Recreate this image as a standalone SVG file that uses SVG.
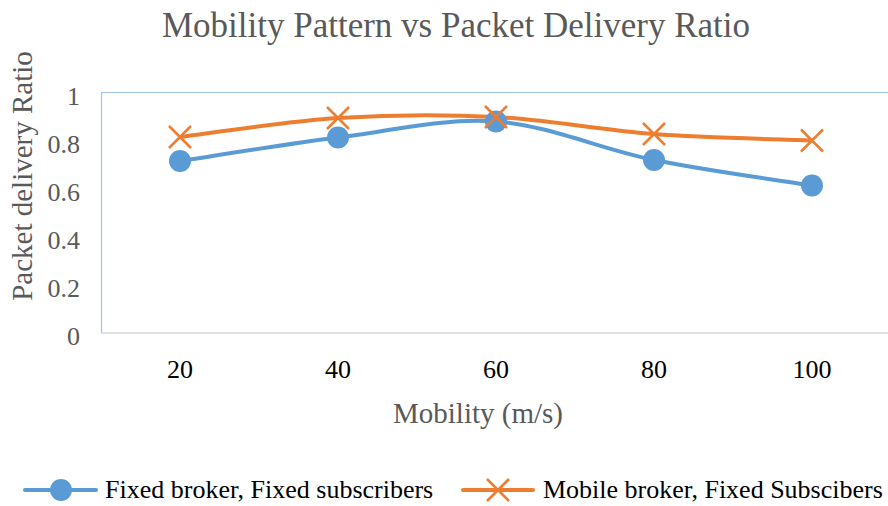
<svg xmlns="http://www.w3.org/2000/svg" width="888" height="506" viewBox="0 0 888 506">
<style>
text{font-family:"Liberation Serif","Times New Roman",serif}
.title{font-size:35px;fill:#595959}
.ytick{font-size:26px;fill:#595959;text-anchor:end}
.xtick{font-size:26px;fill:#000;text-anchor:middle}
.axt{font-size:29px;fill:#595959;text-anchor:middle}
.leg{font-size:26px;fill:#000}
.blue{fill:none;stroke:#5b9bd5;stroke-width:4;stroke-linecap:round}
.orange{fill:none;stroke:#ed7d31;stroke-width:4;stroke-linecap:round}
.xm{stroke:#ed7d31;stroke-width:2.5;fill:none}
</style>
<defs>
<circle id="dot" r="11" fill="#5b9bd5"/>
<path id="xmark" d="M-11,-11L11,11M-11,11L11,-11" class="xm"/>
</defs>
<rect width="888" height="506" fill="#fff"/>
<text class="title" x="456" y="37" text-anchor="middle">Mobility Pattern vs Packet Delivery Ratio</text>
<g id="plot-area">
<path d="M888,92.5H101.5V333" fill="none" stroke="#9dc3e6" stroke-width="1.2"/>
<line x1="101" y1="333" x2="888" y2="333" stroke="#d9d9d9" stroke-width="1.5"/>
</g>
<g id="y-axis">
<text class="ytick" x="80" y="104.5">1</text>
<text class="ytick" x="80" y="152.6">0.8</text>
<text class="ytick" x="80" y="200.7">0.6</text>
<text class="ytick" x="80" y="248.8">0.4</text>
<text class="ytick" x="80" y="296.9">0.2</text>
<text class="ytick" x="80" y="345">0</text>
<text class="axt" transform="translate(32,176) rotate(-90)">Packet delivery Ratio</text>
</g>
<g id="x-axis">
<text class="xtick" x="180" y="378">20</text>
<text class="xtick" x="338" y="378">40</text>
<text class="xtick" x="496" y="378">60</text>
<text class="xtick" x="654" y="378">80</text>
<text class="xtick" x="812" y="378">100</text>
<text class="axt" x="478" y="423">Mobility (m/s)</text>
</g>
<g id="connectors">
<path class="blue" d="M180,161C206.3,157.1 285.3,144.1 338,137.5C390.7,130.9 443.3,117.75 496,121.5C548.7,125.25 601.3,149.3 654,160C706.7,170.67 785.7,181.25 812,185.5"/>
<path class="orange" d="M180,137C206.3,133.8 285.3,121.3 338,118C390.7,114.7 443.3,114.3 496,117C548.7,119.67 601.3,130.1 654,134C706.7,137.9 785.7,139.4 812,140.5"/>
</g>
<g id="series-fixed">
<use href="#dot" x="180" y="161"/>
<use href="#dot" x="338" y="137.5"/>
<use href="#dot" x="496" y="121.5"/>
<use href="#dot" x="654" y="160"/>
<use href="#dot" x="812" y="185.5"/>
</g>
<g id="series-mobile">
<use href="#xmark" x="180" y="137"/>
<use href="#xmark" x="338" y="118"/>
<use href="#xmark" x="496" y="117"/>
<use href="#xmark" x="654" y="134"/>
<use href="#xmark" x="812" y="140.5"/>
</g>
<g id="legend">
<line class="blue" x1="25" y1="490" x2="96" y2="490"/>
<use href="#dot" x="61" y="490"/>
<text class="leg" x="105" y="498">Fixed broker, Fixed subscribers</text>
<line class="orange" x1="463" y1="490" x2="533" y2="490"/>
<use href="#xmark" x="498" y="490"/>
<text class="leg" x="543" y="498">Mobile broker, Fixed Subscibers</text>
</g>
</svg>
